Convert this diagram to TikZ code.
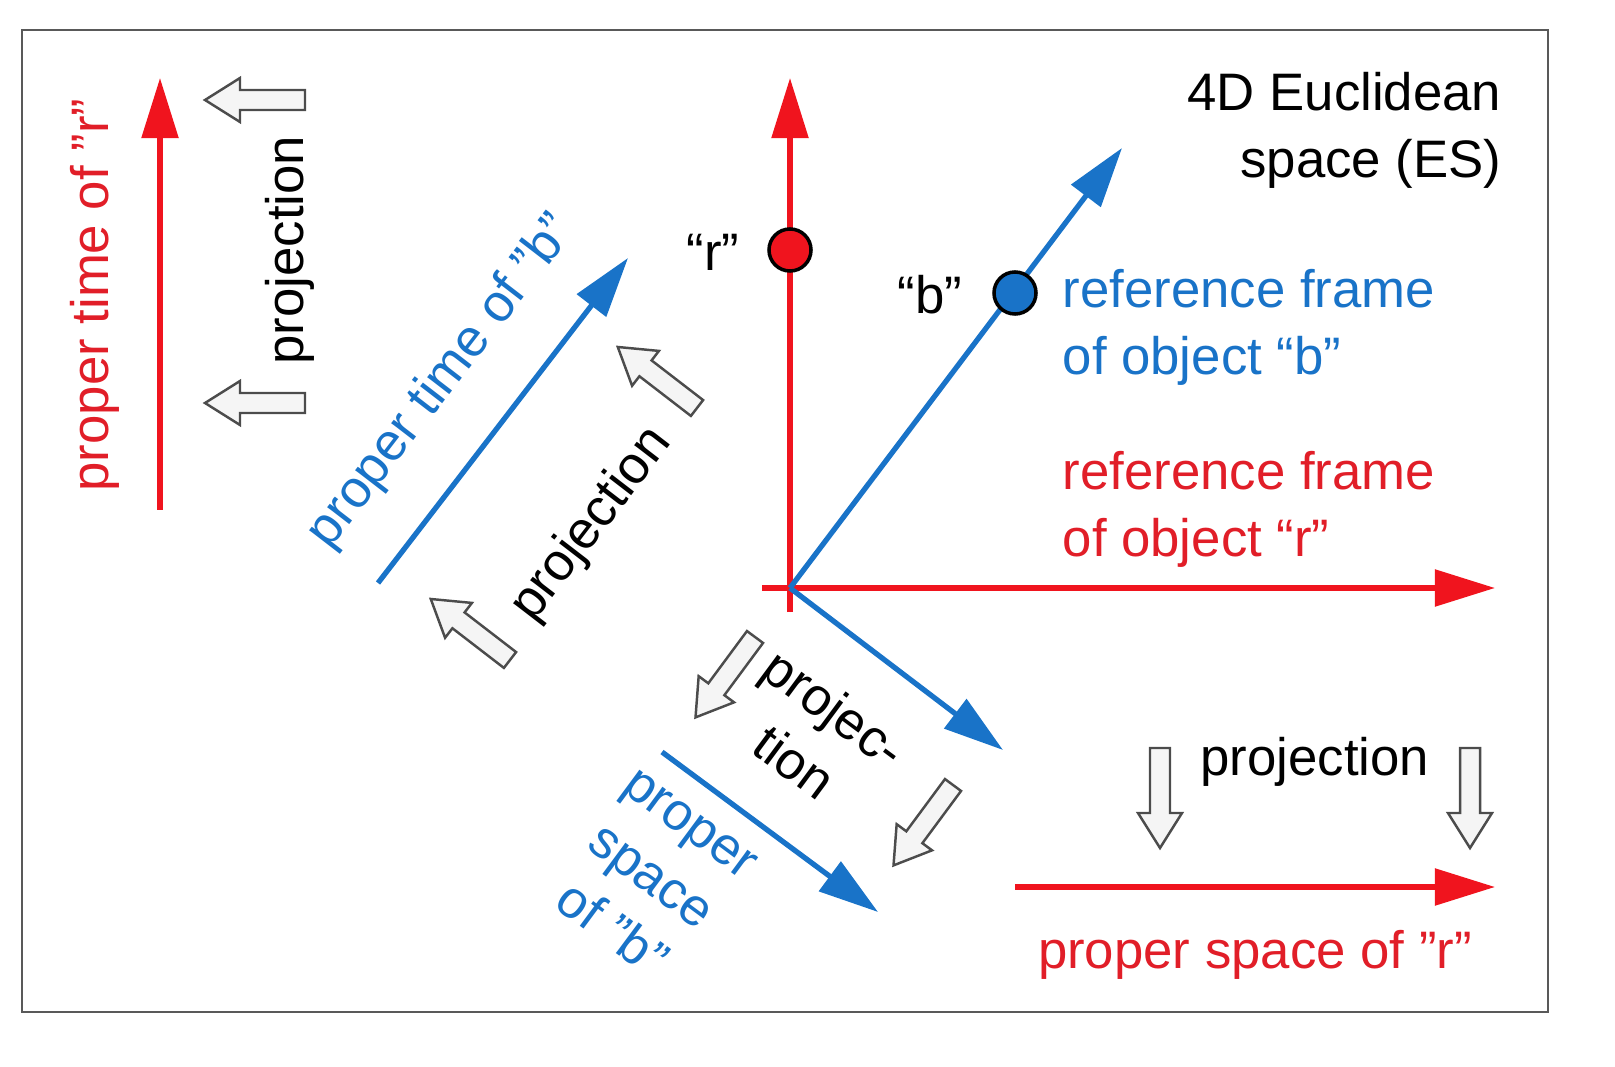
\documentclass[tikz,border=0pt]{standalone}
\usepackage{fontspec}
\setmainfont{Liberation Sans}
\usetikzlibrary{arrows.meta}
\definecolor{rr}{RGB}{240,20,30}
\definecolor{rt}{RGB}{225,30,40}
\definecolor{bb}{RGB}{25,115,200}
\tikzset{
 ax/.style={line width=1.5pt,-{Triangle[length=0.6cm,width=0.36cm]}},
 redax/.style={ax,draw=rr,fill=rr},
 blueax/.style={ax,draw=bb,fill=bb},
 lbl/.style={font=\fontsize{15}{19}\selectfont,inner sep=0pt,align=center},
 harrow/.pic={\draw[gray!60!black,fill=gray!8,line width=0.7pt]
   (0,-10)--(65,-10)--(65,-22)--(100,0)--(65,22)--(65,10)--(0,10)--cycle;}
}
\begin{document}
\begin{tikzpicture}[x=0.01cm,y=-0.01cm]
\useasboundingbox (0,0) rectangle (1615,1067);
\draw[gray!70!black,line width=0.8pt] (22,30) rectangle (1548,1012);
\coordinate (o) at (790,588);
\coordinate (vb) at (790,612);
\coordinate (vt) at (790,78);
\coordinate (hl) at (762,588);
\coordinate (hr) at (1495,588);
\coordinate (bt) at (1122,148);
\coordinate (bl) at (1003,750);
\draw[redax] (vb)--(vt);
\draw[redax] (hl)--(hr);
\draw[blueax] (o)--(bt);
\draw[blueax] (o)--(bl);
\node[circle,draw=black,fill=rr,line width=1pt,minimum size=0.42cm,inner sep=0pt] (dr) at (790,250) {};
\node[circle,draw=black,fill=bb,line width=1pt,minimum size=0.42cm,inner sep=0pt] (db) at (1015,293) {};
\node[lbl] (lr) at (713,252) {“r”};
\node[lbl] (lb) at (930,295) {“b”};
\node[lbl,anchor=east,align=right] (es) at (1502,130) {4D Euclidean\\space (ES)};
\node[lbl,anchor=west,align=left,text=bb] (rfb) at (1062,327) {reference frame\\of object “b”};
\node[lbl,anchor=west,align=left,text=rt] (rfr) at (1062,509) {reference frame\\of object “r”};
\coordinate (ptb) at (160,510);
\coordinate (ptt) at (160,78);
\draw[redax] (ptb)--(ptt);
\node[lbl,rotate=90,text=rt] (ptr) at (95,295) {proper time of ”r”};
\pic at (305,100) [rotate=180] {harrow};
\pic at (305,403) [rotate=180] {harrow};
\node[lbl,rotate=90] (p1) at (290,250) {projection};
\coordinate (pbs) at (378,583);
\coordinate (pbe) at (628,258);
\draw[blueax] (pbs)--(pbe);
\node[lbl,rotate=52.4,text=bb] (ptbl) at (442,382) {proper time of ”b”};
\pic at (510,660) [rotate=142.4] {harrow};
\pic at (697,408) [rotate=142.4] {harrow};
\node[lbl,rotate=52.4] (p2) at (592,525) {projection};
\coordinate (psbs) at (662,752);
\coordinate (psbe) at (878,912);
\draw[blueax] (psbs)--(psbe);
\node[lbl,rotate=-36.5,text=bb] (psbl) at (650,878) {proper\\space\\of ”b”};
\pic at (755,637) [rotate=-126.5] {harrow};
\pic at (953,785) [rotate=-126.5] {harrow};
\node[lbl,rotate=-36.5] (p3) at (815,735) {projec-\\tion};
\coordinate (psrs) at (1015,887);
\coordinate (psre) at (1495,887);
\draw[redax] (psrs)--(psre);
\node[lbl,text=rt] (psr) at (1255,955) {proper space of ”r”};
\pic at (1160,748) [rotate=-90] {harrow};
\pic at (1470,748) [rotate=-90] {harrow};
\node[lbl] (p4) at (1315,762) {projection};
\end{tikzpicture}
\end{document}
